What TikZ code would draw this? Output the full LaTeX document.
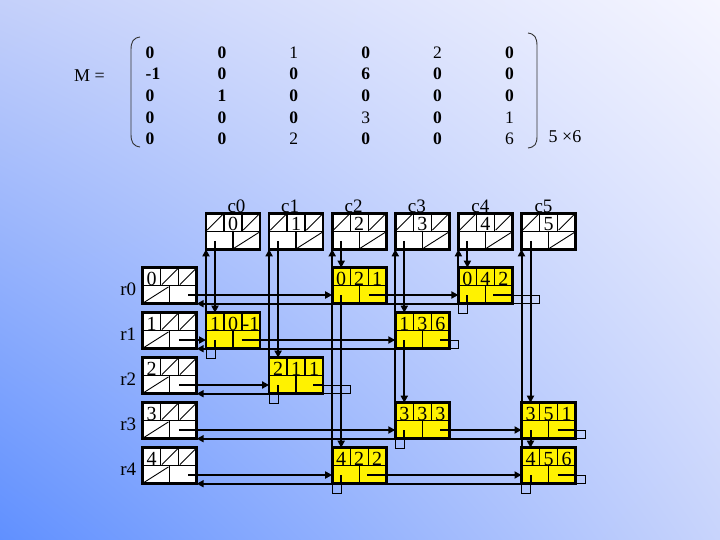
\documentclass[tikz,border=0pt]{standalone}
\usepackage{fontspec}
\setmainfont{Liberation Serif}
\usetikzlibrary{arrows.meta,shadings}
\definecolor{bgUL}{RGB}{196,208,250}
\definecolor{bgUR}{RGB}{246,246,255}
\definecolor{bgLL}{RGB}{96,144,255}
\definecolor{bgLR}{RGB}{200,212,252}
\tikzset{
  box/.style={draw=black, line width=2.6pt, minimum width=54pt, minimum height=36pt, inner sep=0pt, outer sep=0pt, anchor=north west},
  hd/.style={box, fill=white},
  el/.style={box, fill=yellow},
  dv/.style={line width=1.3pt},
  sl/.style={line width=0.9pt},
  pl/.style={line width=2pt},
  ar/.style={line width=2pt, -{Triangle[length=7pt,width=7pt]}},
  lp/.style={line width=1pt},
  num/.style={font=\fontsize{20}{20}\selectfont, anchor=base, inner sep=0pt},
  lab/.style={font=\fontsize{19}{19}\selectfont, anchor=base, inner sep=0pt},
  mtx/.style={font=\fontsize{17.5}{17.5}\selectfont, inner sep=0pt},
}
\newcommand\cellgrid[1]{%
  \draw[dv] (#1.west) -- (#1.east);
  \draw[dv] ([shift={(18,0)}]#1.north west) -- ([shift={(18,18)}]#1.north west);
  \draw[dv] ([shift={(36,0)}]#1.north west) -- ([shift={(36,18)}]#1.north west);
  \draw[dv] ([shift={(27,18)}]#1.north west) -- ([shift={(27,36)}]#1.north west);}
\newcommand\cellslash[5]{%
  \draw[sl] ([shift={(#2+1.2,#5-1.2)}]#1.north west) -- ([shift={(#4-1.2,#3+1.2)}]#1.north west);}
\begin{document}
\begin{tikzpicture}[x=1pt,y=-1pt]
\useasboundingbox (0,0) rectangle (720,540);
\shade[upper left=bgUL, upper right=bgUR, lower left=bgLL, lower right=bgLR] (0,0) rectangle (720,540);

% ---------- matrix ----------
\node[font=\fontsize{18}{18}\selectfont, inner sep=0pt] (Mlab) at (89.5,76) {M =};
\foreach \i/\j/\t/\b/\o in {
  0/0/0/1/0, 0/1/0/1/0, 0/2/1/0/0, 0/3/0/1/0, 0/4/2/0/0, 0/5/0/1/0,
  1/0/-1/1/3, 1/1/0/1/0, 1/2/0/1/0, 1/3/6/1/0, 1/4/0/1/0, 1/5/0/1/0,
  2/0/0/1/0, 2/1/1/1/0, 2/2/0/1/0, 2/3/0/1/0, 2/4/0/1/0, 2/5/0/1/0,
  3/0/0/1/0, 3/1/0/1/0, 3/2/0/1/0, 3/3/3/0/0, 3/4/0/1/0, 3/5/1/0/0,
  4/0/0/1/0, 4/1/0/1/0, 4/2/2/0/0, 4/3/0/1/0, 4/4/0/1/0, 4/5/6/0/0}
{
  \node[mtx] (m\i\j) at (150+71.9*\j+\o, 52.5+21.6*\i) {\ifnum\b=1 \bfseries\fi\t};
}
\draw[line width=0.9pt, black!80] (140,37) .. controls (133,38) and (131,42) .. (131,50) -- (131,134) .. controls (131,142) and (133,146) .. (140,147);
\draw[line width=0.9pt, black!80] (528,33) .. controls (535,34) and (537,38) .. (537,46) -- (537,136) .. controls (537,144) and (535,147) .. (528,148);
\node[font=\fontsize{18}{18}\selectfont, inner sep=0pt] (dim) at (565,137) {5 ×6};

% ---------- column heads ----------
\foreach \j/\dx in {0/3.5,1/-6,2/-5.5,3/-5.5,4/-5,5/-5}{
  \node[hd] (c\j) at (206+63.1*\j, 213.3) {};
  \cellgrid{c\j}
  \cellslash{c\j}{0}{0}{18}{18}
  \cellslash{c\j}{36}{0}{54}{18}
  \cellslash{c\j}{27}{18}{54}{36}
  \node[num] (cv\j) at ([shift={(27,17.5)}]c\j.north west) {\j};
  \node[lab] (cl\j) at ([shift={(27+\dx,-0.5)}]c\j.north west) {c\j};
}
% ---------- row heads ----------
\foreach \i in {0,...,4}{
  \node[hd] (r\i) at (142.7, 267.7+45*\i) {};
  \cellgrid{r\i}
  \cellslash{r\i}{18}{0}{36}{18}
  \cellslash{r\i}{36}{0}{54}{18}
  \cellslash{r\i}{0}{18}{27}{36}
  \node[num] (rv\i) at ([shift={(9,17.5)}]r\i.north west) {\i};
  \node[lab] (rl\i) at ([shift={(-14.5,27.3)}]r\i.north west) {r\i};
}
% ---------- elements ----------
\foreach \n/\i/\j/\v in {02/0/2/1, 04/0/4/2, 10/1/0/-1, 13/1/3/6, 21/2/1/1, 33/3/3/3, 35/3/5/1, 42/4/2/2, 45/4/5/6}{
  \node[el] (a\n) at (206+63.1*\j, 267.7+45*\i) {};
  \cellgrid{a\n}
  \node[num] (ar\n) at ([shift={(9,17.5)}]a\n.north west) {\i};
  \node[num] (ac\n) at ([shift={(27,17.5)}]a\n.north west) {\j};
  \node[num] (av\n) at ([shift={(45,17.5)}]a\n.north west) {\v};
}

% ---------- column links ----------
\foreach \h/\t in {c0/a10, c1/a21, c2/a02, a02/a42, c3/a13, a13/a33, c4/a04, c5/a35, a35/a45}{
  \draw[ar] ([shift={(9,27.5)}]\h.north west) -- ([shift={(9,0)}]\t.north west);
}
\foreach \t/\h in {a10/c0, a21/c1, a42/c2, a33/c3, a04/c4, a45/c5}{
  \draw[pl] ([shift={(9,27.5)}]\t.north west) -- ([shift={(9,36)}]\t.north west);
  \draw[lp] ([shift={(9,36)}]\t.north west) -- ([shift={(9,45.4)}]\t.north west) -- ([shift={(0,45.4)}]\t.north west) -- (\t.south west);
  \draw[ar] (\t.south west) -- (\h.south west);
}

% ---------- row links ----------
\foreach \h/\d/\t in {r0/45.6/a02, a02/36.6/a04, r1/36.6/a10, a10/35.7/a13, r2/36.6/a21, r3/36.6/a33, a33/45/a35, r4/45.6/a42, a42/35/a45}{
  \draw[ar] ([shift={(\d,27.3)}]\h.north west) -- ([shift={(0,27.3)}]\t.north west);
}
\foreach \t/\d/\e/\h in {a04/35/27/r0, a13/45/9/r1, a21/44/27/r2, a35/36/9.5/r3, a45/36/9.5/r4}{
  \draw[pl] ([shift={(\d,27.3)}]\t.north west) -- ([shift={(54,27.3)}]\t.north west);
  \draw[lp] ([shift={(54,27.3)}]\t.north west) -- ([shift={(54+\e,27.3)}]\t.north west) -- ([shift={(54+\e,36)}]\t.north west) -- (\t.south east);
  \draw[ar] (\t.south east) -- (\h.south east);
}
\end{tikzpicture}
\end{document}
